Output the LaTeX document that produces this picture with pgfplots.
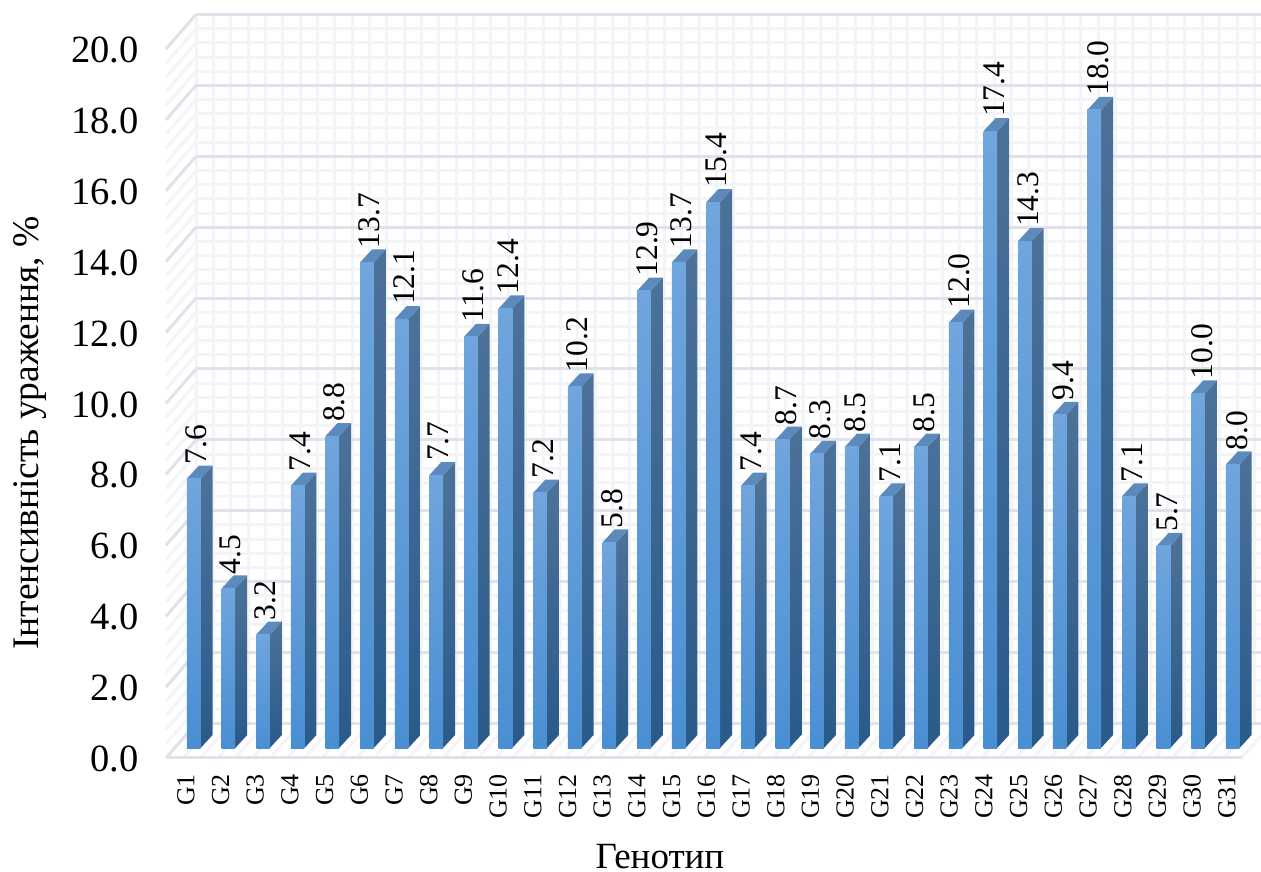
\documentclass[border=0pt]{standalone}
\usepackage{pgfplots}
\usepackage{pgfplotstable}
\usepackage{fontspec}
\setmainfont{Liberation Serif}
\pgfplotsset{compat=1.18}
\definecolor{gmaj}{HTML}{DFE2EB}
\definecolor{gmin}{HTML}{F3F4F7}
\definecolor{ftop}{HTML}{70A5DD}
\definecolor{fbot}{HTML}{4A8FD3}
\definecolor{stop}{HTML}{4C7299}
\definecolor{sbot}{HTML}{2A5A8A}
\definecolor{ttop}{HTML}{5D8ABC}
\pgfplotstableread{
i v
1 7.6
2 4.5
3 3.2
4 7.4
5 8.8
6 13.7
7 12.1
8 7.7
9 11.6
10 12.4
11 7.2
12 10.2
13 5.8
14 12.9
15 13.7
16 15.4
17 7.4
18 8.7
19 8.3
20 8.5
21 7.1
22 8.5
23 12.0
24 17.4
25 14.3
26 9.4
27 18.0
28 7.1
29 5.7
30 10.0
31 8.0
}\datatable
\pgfplotsset{
  gmajor/.style={draw=gmaj,line width=3pt},
  gminor/.style={draw=gmin,line width=3pt}
}
% grid line from (x1,y1) to (x2,y2) in axis units
\newcommand\gl[5]{\edef\tmp{\noexpand\addplot[#1,forget plot] coordinates {(#2,#3)(#4,#5)};}\tmp}
\begin{document}
\begin{tikzpicture}[x=1pt,y=1pt]
\useasboundingbox (0,0) rectangle (1261,872);
\begin{axis}[
  at={(166pt,114pt)},anchor=south west,
  scale only axis,width=1075.7pt,height=709pt,
  xmin=0.5,xmax=31.5,ymin=0,ymax=20,
  clip=false,
  axis line style={draw=none},
  tick style={draw=none},
  major tick length=0pt,
  xtick={1,...,31},
  xticklabels={G1,G2,G3,G4,G5,G6,G7,G8,G9,G10,G11,G12,G13,G14,G15,G16,G17,G18,G19,G20,G21,G22,G23,G24,G25,G26,G27,G28,G29,G30,G31},
  xticklabel style={xshift=2.5pt,yshift=-16pt,rotate=90,anchor=east,inner sep=0pt,font=\fontsize{26}{26}\selectfont},
  ytick={0,2,...,20},
  /pgf/number format/assume math mode=true,
  yticklabel={\pgfmathprintnumber[fixed,fixed zerofill,precision=1]{\tick}},
  yticklabel style={font=\fontsize{38.5}{38.5}\selectfont,anchor=east,xshift=-24pt,yshift=-1pt},
  xlabel={Генотип},
  xlabel style={font=\fontsize{37}{37}\selectfont,inner sep=0pt,at={(rel axis cs:0,0)},anchor=center,xshift=494pt,yshift=-99pt},
  ylabel={Інтенсивність ураження, \%},
  ylabel style={font=\fontsize{37.5}{37.5}\selectfont,at={(rel axis cs:0,0)},anchor=center,xshift=325pt,yshift=136pt},
]
% left wall, back wall
\pgfplotsinvokeforeach{0,...,50}{
  \pgfmathsetmacro\yy{#1*0.4}
  \pgfmathsetmacro\yb{\yy+0.973}
  \pgfmathtruncatemacro\ismaj{mod(#1,5)==0}
  \ifnum\ismaj=0
  \gl{gminor}{0.5}{\yy}{1.3646}{\yb}
  \gl{gminor}{1.3646}{\yb}{32.06}{\yb}
  \fi
}
\pgfplotsinvokeforeach{0,...,61}{
  \pgfmathsetmacro\xx{0.5+#1*0.5}
  \pgfmathsetmacro\xb{\xx+0.8646}
  \gl{gminor}{\xb}{0.973}{\xb}{20.973}
  \gl{gminor}{\xx}{0}{\xb}{0.973}
}
\pgfplotsinvokeforeach{62}{
  \pgfmathsetmacro\xx{0.5+#1*0.5}
  \pgfmathsetmacro\xb{\xx+0.8646}
  \gl{gminor}{\xx}{0}{\xb}{0.973}
}
\pgfplotsinvokeforeach{0,...,10}{
  \pgfmathsetmacro\yy{#1*2}
  \pgfmathsetmacro\yb{\yy+0.973}
  \gl{gmajor}{0.5}{\yy}{1.3646}{\yb}
  \gl{gmajor}{1.3646}{\yb}{32.06}{\yb}
}
\gl{gmajor}{0.5}{0}{31.5}{0}
% bars
\pgfplotsinvokeforeach{0,...,30}{
  \pgfplotstablegetelem{#1}{v}\of\datatable
  \pgfmathsetmacro\vt{\pgfplotsretval+0.282}
  \pgfmathsetmacro\vb{\vt+0.367}
  \pgfmathsetmacro\xa{1.105+0.998*#1}
  \pgfmathsetmacro\xc{\xa+0.392}
  \pgfmathsetmacro\xd{\xc+0.346}
  \pgfmathsetmacro\xe{\xa+0.346}
  \edef\tmp{%
    \noexpand\addplot[draw=none,top color=stop,bottom color=sbot,forget plot] coordinates {(\xc,0.282)(\xd,0.649)(\xd,\vb)(\xc,\vt)} --cycle;
    \noexpand\addplot[draw=none,fill=ttop,forget plot] coordinates {(\xa,\vt)(\xc,\vt)(\xd,\vb)(\xe,\vb)} --cycle;
    \noexpand\addplot[draw=none,top color=ftop,bottom color=fbot,forget plot] coordinates {(\xa,0.282)(\xc,0.282)(\xc,\vt)(\xa,\vt)} --cycle;
  }\tmp
}
% value labels
\addplot[draw=none,
  nodes near coords={\pgfmathprintnumber[fixed,fixed zerofill,precision=1]{\pgfplotspointmeta}},
  every node near coord/.style={xshift=12.5pt,yshift=24pt,rotate=90,anchor=west,inner sep=0pt,font=\fontsize{31.5}{31.5}\selectfont},
] table[x=i,y=v] {\datatable};
\end{axis}
\end{tikzpicture}
\end{document}
